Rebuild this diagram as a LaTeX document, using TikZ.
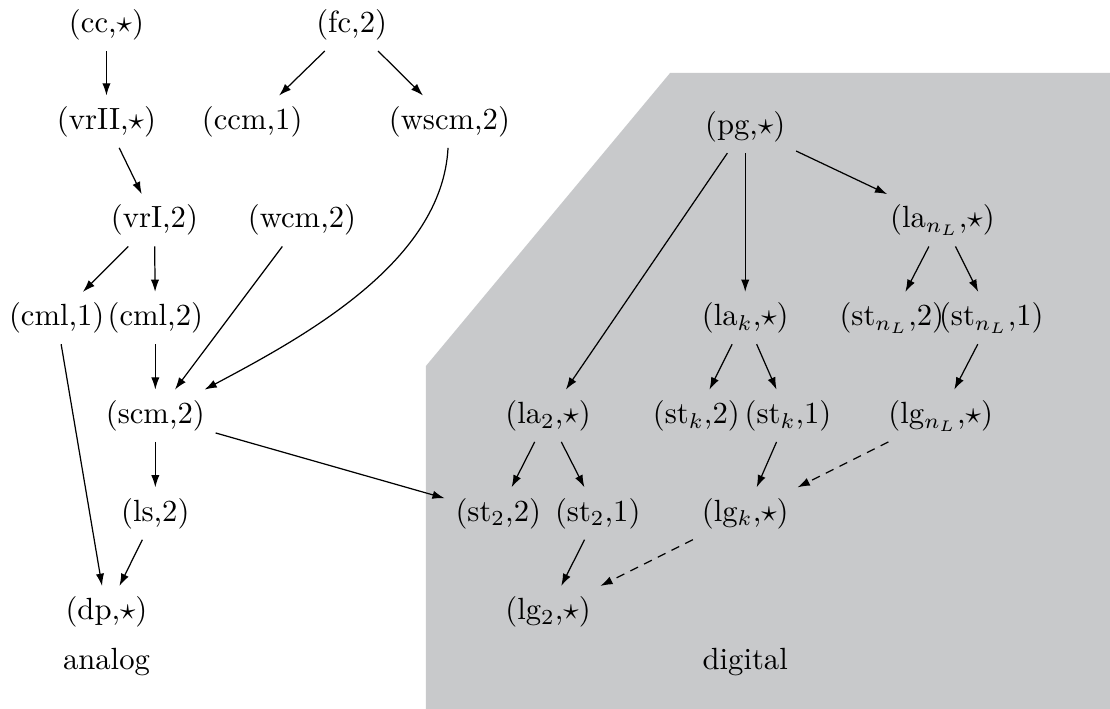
\documentclass[tikz,border=0pt]{standalone}
\usepackage{xcolor}
\usepackage{tikz}
\usetikzlibrary{arrows.meta}
\definecolor{digitalbg}{RGB}{200,201,203}

\begin{document}
\begin{tikzpicture}[
    term/.style={inner sep=3.33pt,text height=7.5pt,text depth=2.5pt},
    arrow/.style={-{Latex[length=4pt,width=2.7pt]},line width=0.4pt},
    dasharrow/.style={arrow,dashed,dash pattern=on 2.8pt off 2.2pt}
]
\useasboundingbox (0,0) rectangle (12.72,8.125);
\fill[digitalbg] (4.88,0) -- (4.88,3.93) -- (7.68,7.29) -- (12.72,7.29) -- (12.72,0) -- cycle;

\node[term] (cc) at (1.22,7.84) {(cc,$\star$)};
\node[term] (fc) at (4.03,7.84) {(fc,2)};
\node[term] (vrII) at (1.22,6.73) {(vrII,$\star$)};
\node[term] (ccm) at (2.89,6.73) {(ccm,1)};
\node[term] (wscm) at (5.15,6.73) {(wscm,2)};
\node[term] (vrI) at (1.77,5.60) {(vrI,2)};
\node[term] (wcm) at (3.46,5.60) {(wcm,2)};
\node[term] (cmlA) at (0.65,4.48) {(cml,1)};
\node[term] (cmlB) at (1.78,4.48) {(cml,2)};
\node[term] (scm) at (1.78,3.36) {(scm,2)};
\node[term] (ls) at (1.78,2.24) {(ls,2)};
\node[term] (dp) at (1.22,1.11) {(dp,$\star$)};
\node[term] (analog) at (1.22,0.54) {analog};

\node[term] (pg) at (8.54,6.67) {(pg,$\star$)};
\node[term] (laN) at (10.80,5.60) {(la$_{n_L}$,$\star$)};
\node[term] (lak) at (8.54,4.48) {(la$_k$,$\star$)};
\node[term] (stNB) at (10.22,4.48) {(st$_{n_L}$,2)};
\node[term] (stNA) at (11.36,4.48) {(st$_{n_L}$,1)};
\node[term] (laB) at (6.28,3.36) {(la$_2$,$\star$)};
\node[term] (stkB) at (7.98,3.36) {(st$_k$,2)};
\node[term] (stkA) at (9.03,3.36) {(st$_k$,1)};
\node[term] (lgN) at (10.78,3.36) {(lg$_{n_L}$,$\star$)};
\node[term] (stBB) at (5.71,2.24) {(st$_2$,2)};
\node[term] (stBA) at (6.85,2.24) {(st$_2$,1)};
\node[term] (lgk) at (8.54,2.24) {(lg$_k$,$\star$)};
\node[term] (lgB) at (6.28,1.11) {(lg$_2$,$\star$)};
\node[term] (digital) at (8.54,0.54) {digital};

\draw[arrow] (cc) -- (vrII);
\draw[arrow] (fc) -- (ccm);
\draw[arrow] (fc) -- (wscm);
\draw[arrow] (vrII) -- (vrI);
\draw[arrow] (vrI) -- (cmlA);
\draw[arrow] (vrI) -- (cmlB);
\draw[arrow] (cmlB) -- (scm);
\draw[arrow] (wcm) -- (scm);
\draw[arrow] (wscm) to[out=-93,in=28,looseness=0.85] (scm);
\draw[arrow] (cmlA) -- (dp);
\draw[arrow] (scm) -- (ls);
\draw[arrow] (ls) -- (dp);
\draw[arrow] (scm) -- (stBB);

\draw[arrow] (pg) -- (laB);
\draw[arrow] (pg) -- (lak);
\draw[arrow] (pg) -- (laN);
\draw[arrow] (laN) -- (stNB);
\draw[arrow] (laN) -- (stNA);
\draw[arrow] (stNA) -- (lgN);
\draw[arrow] (lak) -- (stkB);
\draw[arrow] (lak) -- (stkA);
\draw[arrow] (stkA) -- (lgk);
\draw[arrow] (laB) -- (stBB);
\draw[arrow] (laB) -- (stBA);
\draw[arrow] (stBA) -- (lgB);
\draw[dasharrow] (lgN) -- (lgk);
\draw[dasharrow] (lgk) -- (lgB);
\end{tikzpicture}
\end{document}
